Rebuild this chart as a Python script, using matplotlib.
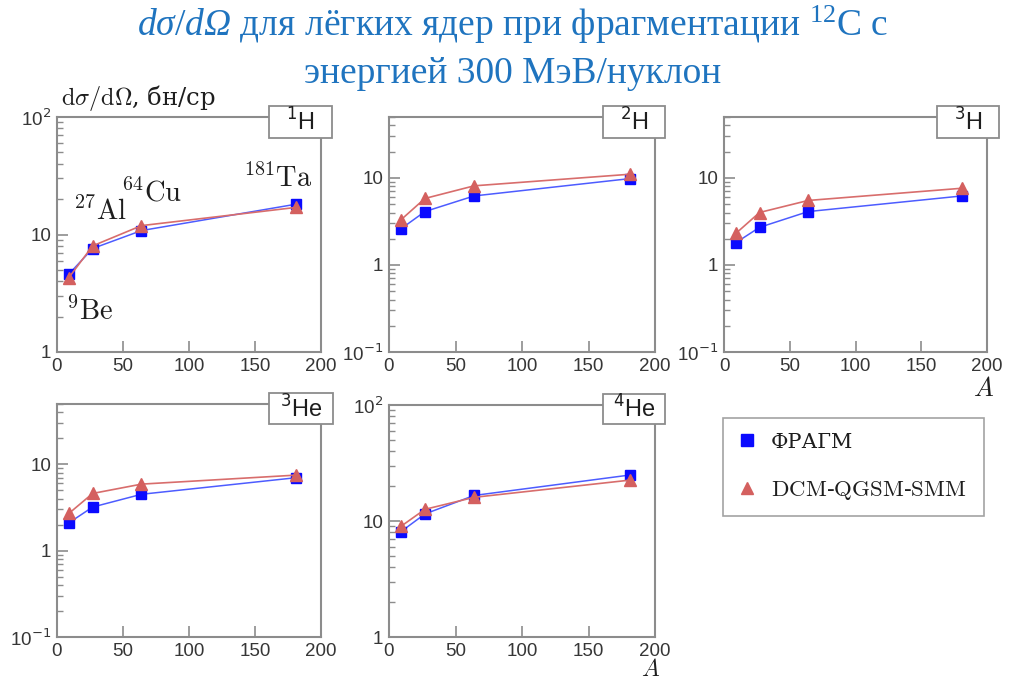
import matplotlib
matplotlib.use("Agg")
import matplotlib.pyplot as plt
import matplotlib.ticker as mticker
from matplotlib.patches import Rectangle
from matplotlib.lines import Line2D

plt.rcParams["font.family"] = ["Liberation Sans", "DejaVu Sans"]
plt.rcParams["mathtext.fontset"] = "custom"
plt.rcParams["mathtext.rm"] = "Liberation Serif"
plt.rcParams["mathtext.it"] = "Liberation Serif:italic"
plt.rcParams["mathtext.bf"] = "Liberation Serif:bold"
# italic slot used for capital Greek (mathit keeps those upright)
plt.rcParams["mathtext.sf"] = "Liberation Serif:italic"

# Target mass numbers: 9Be, 27Al, 64Cu, 181Ta
mass_number = [9, 27, 64, 181]

# FRAGM measurements, d sigma / d Omega [b/sr]
fragm_1H = [4.6, 7.6, 10.8, 18.1]
fragm_2H = [2.6, 4.1, 6.2, 9.8]
fragm_3H = [1.8, 2.7, 4.1, 6.2]
fragm_3He = [2.1, 3.2, 4.5, 7.0]
fragm_4He = [8.1, 11.5, 16.6, 24.9]

# DCM-QGSM-SMM calculation
dcm_1H = [4.3, 8.0, 11.9, 17.0]
dcm_2H = [3.3, 5.8, 8.1, 11.0]
dcm_3H = [2.3, 4.0, 5.5, 7.6]
dcm_3He = [2.7, 4.6, 5.9, 7.5]
dcm_4He = [9.0, 12.6, 16.0, 22.5]

fragment_tags = ["$^{1}$H", "$^{2}$H", "$^{3}$H", "$^{3}$He", "$^{4}$He"]
series_names = ["ФРАГМ", r"$\mathrm{DCM}$-$\mathrm{QGSM}$-$\mathrm{SMM}$"]
x_ticks = [0, 50, 100, 150, 200]

BLUE = "#0a0aff"
BLUE_LINE = "#4d5cff"
RED = "#d4605f"
RED_LINE = "#d86d6c"
GREY = "#8c8c8c"
TICK_TXT = "#363636"
TITLE = "#1f74bf"
INK = "#1e1e1e"

W, H = 1025, 681
fig = plt.figure(figsize=(W / 100, H / 100), dpi=100)


def fx(x):
    return x / W


def fy(y):
    return 1 - y / H


def panel(left, top, right, bottom, ylim, yticks, ylabels, fr, dc, tag, box):
    ax = fig.add_axes([fx(left), fy(bottom), (right - left) / W, (bottom - top) / H])
    ax.plot(mass_number, fr, color=BLUE_LINE, lw=1.1, marker="s", ms=7,
            mfc=BLUE, mec=BLUE, zorder=3)
    ax.plot(mass_number, dc, color=RED_LINE, lw=1.2, marker="^", ms=8,
            mfc=RED, mec=RED, zorder=4)
    ax.set_xlim(0, 200)
    ax.set_yscale("log")
    ax.set_ylim(*ylim)
    ax.set_xticks(x_ticks)
    ax.set_yticks(yticks)
    ax.set_yticklabels(ylabels, math_fontfamily="dejavusans")
    ax.yaxis.set_minor_locator(mticker.LogLocator(base=10, subs=range(2, 10)))
    ax.yaxis.set_minor_formatter(mticker.NullFormatter())
    ax.tick_params(which="both", direction="in", top=False, right=False,
                   color=GREY, labelcolor=TICK_TXT, labelsize=13.5)
    ax.tick_params(which="major", length=8, width=1.2, pad=4)
    ax.tick_params(which="minor", length=4, width=1.0)
    for s in ax.spines.values():
        s.set_color(GREY)
        s.set_linewidth(1.5)
    x0, y0, x1, y1 = box
    fig.add_artist(Rectangle((fx(x0), fy(y1)), (x1 - x0) / W, (y1 - y0) / H,
                             transform=fig.transFigure, fc="white", ec=GREY,
                             lw=1.3, zorder=10))
    fig.text(fx((x0 + x1) / 2), fy((y0 + y1) / 2), tag, ha="center", va="center",
             fontsize=17, color=INK, math_fontfamily="dejavusans", zorder=11)
    return ax


lab_wide = [1, 10, 100]
lab_wide_txt = ["1", "10", "10$^{2}$"]
lab_low = [0.1, 1, 10]
lab_low_txt = ["10$^{-1}$", "1", "10"]

panel(57, 117, 321, 352, (1, 100), lab_wide, lab_wide_txt, fragm_1H, dcm_1H,
      fragment_tags[0], (269, 106, 332, 138))
panel(389, 117, 655, 352, (0.1, 50), lab_low, lab_low_txt, fragm_2H, dcm_2H,
      fragment_tags[1], (603, 106, 665, 138))
panel(724, 117, 987, 352, (0.1, 50), lab_low, lab_low_txt, fragm_3H, dcm_3H,
      fragment_tags[2], (937, 106, 999, 138))
panel(57, 404, 321, 637, (0.1, 50), lab_low, lab_low_txt, fragm_3He, dcm_3He,
      fragment_tags[3], (269, 393, 333, 424))
panel(389, 405, 655, 637, (1, 100), lab_wide, lab_wide_txt, fragm_4He, dcm_4He,
      fragment_tags[4], (603, 394, 665, 424))

# Title
fig.text(0.5, fy(36),
         r"$\mathit{dσ/d}\mathsf{Ω}$ для лёгких ядер при фрагментации $^{12}$C с",
         ha="center", va="baseline", fontsize=27, color=TITLE,
         family="Liberation Serif", math_fontfamily="custom")
fig.text(0.5, fy(83), "энергией 300 МэВ/нуклон",
         ha="center", va="baseline", fontsize=27, color=TITLE,
         family="Liberation Serif")

# Y-axis quantity
fig.text(fx(61), fy(105), r"$\mathrm{d}\sigma/\mathrm{d}\Omega$, бн/ср",
         ha="left", va="baseline", fontsize=17.5, color=INK,
         family="DejaVu Serif", math_fontfamily="cm")

# Target labels
targets = [(r"$^{9}\mathrm{Be}$", 66, 320), (r"$^{27}\mathrm{Al}$", 73, 220),
           (r"$^{64}\mathrm{Cu}$", 121, 202), (r"$^{181}\mathrm{Ta}$", 243, 187)]
for txt, x, y in targets:
    fig.text(fx(x), fy(y), txt, ha="left", va="baseline", fontsize=20.5,
             color=INK, math_fontfamily="cm")

# Mass-number axis markers
fig.text(fx(984), fy(389), "$A$", ha="center", va="center", fontsize=19,
         color=INK, math_fontfamily="cm")
fig.text(fx(651), fy(670), "$A$", ha="center", va="center", fontsize=17,
         color=INK, math_fontfamily="cm")

# Legend
handles = [Line2D([], [], ls="none", marker="s", ms=8, mfc=BLUE, mec=BLUE),
           Line2D([], [], ls="none", marker="^", ms=9, mfc=RED, mec=RED)]
leg = fig.legend(handles, series_names, loc="upper left",
                 bbox_to_anchor=(fx(723), fy(515), 261 / W, 97 / H),
                 mode="expand", frameon=True, fancybox=False, edgecolor=GREY,
                 prop={"family": "DejaVu Serif", "size": 15},
                 borderpad=0.7, labelspacing=1.3, handlelength=0.9,
                 handletextpad=0.7, borderaxespad=0)
leg.get_frame().set_linewidth(1.2)
for t in leg.get_texts():
    t.set_color(INK)
    t.set_math_fontfamily("cm")
leg.get_texts()[1].set_fontsize(16.5)

fig.savefig("out.png", dpi=100)
